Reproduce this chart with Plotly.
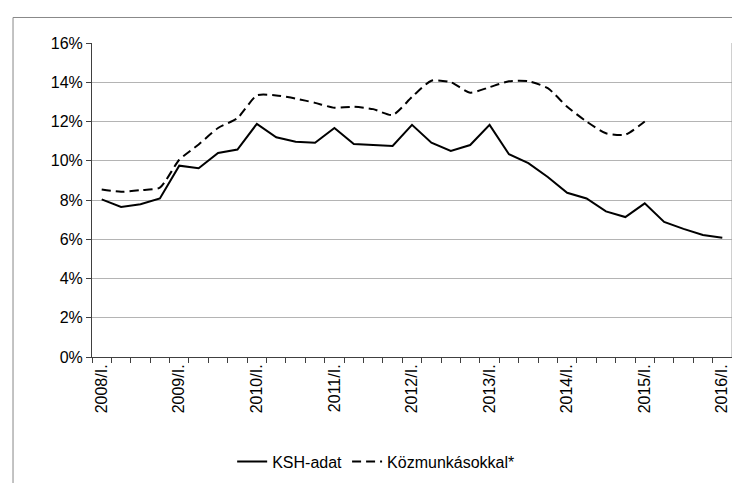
import plotly.graph_objects as go

years = list(range(2008, 2017))
quarters = ["I.", "II.", "III.", "IV."]
categories = []
for y in years:
    for q in quarters:
        categories.append(f"{y}/{q}")
categories = categories[:33]  # 2008/I. .. 2016/I.
tick_labels = [c if c.endswith("/I.") else "" for c in categories]

ksh_adat = [8.03, 7.65, 7.78, 8.08, 9.75, 9.62, 10.40, 10.57,
            11.88, 11.20, 10.97, 10.92, 11.67, 10.85, 10.80, 10.75,
            11.83, 10.92, 10.50, 10.80, 11.83, 10.33, 9.88, 9.17,
            8.37, 8.08, 7.42, 7.13, 7.83, 6.88, 6.53, 6.22, 6.08]

kozmunkasokkal = [8.53, 8.42, 8.50, 8.63, 10.05, 10.83, 11.67, 12.17,
                  13.33, 13.33, 13.17, 12.95, 12.70, 12.75, 12.63, 12.33,
                  13.25, 14.08, 14.00, 13.47, 13.75, 14.05, 14.05, 13.70,
                  12.75, 12.00, 11.40, 11.33, 12.00, None, None, None, None]

FONT = "Arial, 'Liberation Sans', sans-serif"

fig = go.Figure()
fig.add_trace(go.Scatter(
    x=categories, y=ksh_adat, name="KSH-adat", mode="lines",
    line=dict(color="black", width=2),
))
fig.add_trace(go.Scatter(
    x=categories, y=kozmunkasokkal, name="Közmunkásokkal*", mode="lines",
    line=dict(color="black", width=2, dash="9px,5px", shape="spline", smoothing=0.6),
    connectgaps=False,
))

fig.update_layout(
    width=740, height=483,
    margin=dict(l=84, r=16, t=35, b=128),
    paper_bgcolor="white", plot_bgcolor="white",
    font=dict(family=FONT, size=16, color="black"),
    showlegend=True,
    legend=dict(orientation="h", x=0.219, xanchor="left", y=-0.333, yanchor="middle",
                font=dict(size=16), itemwidth=30, tracegroupgap=0),
    xaxis=dict(
        type="category", tickmode="array", tickvals=categories, ticktext=tick_labels,
        tickangle=-90, tickson="boundaries", ticks="outside", ticklen=5,
        tickcolor="#404040", showline=True, linecolor="#404040", linewidth=1,
        showgrid=False, zeroline=False, tickfont=dict(size=16),
        range=[-0.5, 32.5],
    ),
    yaxis=dict(
        range=[0, 16], dtick=2, ticksuffix="%", ticks="outside", ticklen=5,
        tickcolor="#404040", showline=True, linecolor="#404040", linewidth=1,
        showgrid=True, gridcolor="#b4b4b4", gridwidth=1, zeroline=False,
        tickfont=dict(size=16),
    ),
    shapes=[
        dict(type="line", xref="paper", yref="paper", x0=1, x1=1, y0=0, y1=1,
             line=dict(color="#a0a0a0", width=1)),
        dict(type="rect", xref="paper", yref="paper", x0=-0.1234, x1=1.06,
             y0=-0.6, y1=1.08125, line=dict(color="#888888", width=1)),
    ],
)

fig.write_html("out.html")
